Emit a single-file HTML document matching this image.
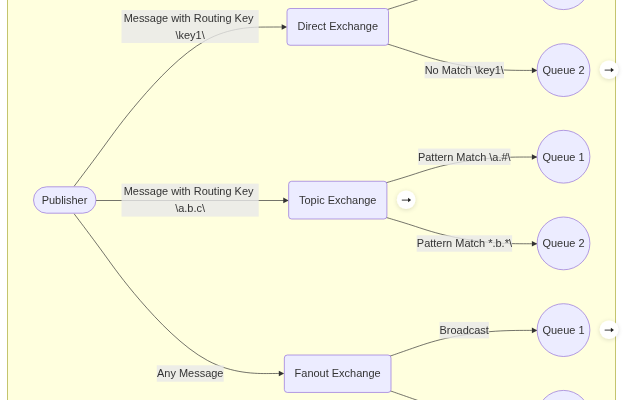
<!DOCTYPE html>
<html><head><meta charset="utf-8"><style>
html,body{margin:0;padding:0;background:#fff;width:624px;height:400px;overflow:hidden}
svg{display:block;will-change:transform}
text{font-family:"Liberation Sans",sans-serif;font-size:10.976px;fill:#333333}
</style></head><body>
<svg width="624" height="400" viewBox="0 0 624 400">
<defs>
<filter id="sh" x="-50%" y="-50%" width="200%" height="200%"><feGaussianBlur in="SourceAlpha" stdDeviation="2.4"/><feOffset dy="0.6"/><feComponentTransfer><feFuncA type="linear" slope="0.14"/></feComponentTransfer><feMerge><feMergeNode/><feMergeNode in="SourceGraphic"/></feMerge></filter>
</defs>

<rect x="7.5" y="-60" width="608" height="520" fill="#ffffde" stroke="#aaaa33" stroke-width="0.686"/>
<path d="M 74.10 186.30 L 79.00 179.83 C 83.89 173.35 93.68 160.41 103.36 147.14 C 113.04 133.87 122.61 120.28 139.75 100.25 C 156.90 80.23 181.61 53.76 205.59 40.48 C 229.57 27.20 252.81 27.10 265.59 27.05 C 278.37 27.00 280.68 27.00 281.84 27.00 L 283.00 27.00" fill="none" stroke="#333333" stroke-width="0.686"/>
<path d="M281.70 24.20 L287.10 27.00 L281.70 29.80 Z" fill="#333333"/>
<path d="M95.5 200.5 L284 200.5" fill="none" stroke="#333333" stroke-width="0.686"/>
<path d="M283.25 197.60 L288.65 200.40 L283.25 203.20 Z" fill="#333333"/>
<path d="M 74.10 213.75 L 79.15 220.45 C 84.20 227.15 94.31 240.54 104.01 253.90 C 113.71 267.26 123.00 280.57 140.29 300.58 C 157.57 320.58 182.84 347.28 207.62 360.54 C 232.41 373.80 256.70 373.62 268.77 373.54 C 280.83 373.45 280.67 373.45 280.58 373.45 L 280.50 373.45" fill="none" stroke="#333333" stroke-width="0.686"/>
<path d="M278.80 370.65 L284.20 373.45 L278.80 376.25 Z" fill="#333333"/>
<path d="M 387.09 9.61 L 391.07 8.36 C 395.05 7.10 403.02 4.60 412.20 1.54 C 421.39 -1.52 431.79 -5.14 445.11 -8.20 C 458.43 -11.27 474.67 -13.79 489.80 -15.05 C 504.94 -16.31 518.97 -16.31 526.70 -16.31 C 534.42 -16.31 535.84 -16.31 536.54 -16.31 L 537.25 -16.31" fill="none" stroke="#333333" stroke-width="0.686"/>
<path d="M531.85 -19.11 L537.25 -16.31 L531.85 -13.51 Z" fill="#333333"/>
<path d="M 387.09 43.89 L 391.07 45.14 C 395.05 46.40 403.02 48.90 412.20 51.96 C 421.39 55.02 431.79 58.64 445.11 61.80 C 458.43 64.97 474.67 67.69 489.80 69.05 C 504.94 70.41 518.97 70.41 526.70 70.41 C 534.42 70.41 535.84 70.41 536.54 70.41 L 537.25 70.41" fill="none" stroke="#333333" stroke-width="0.686"/>
<path d="M531.85 67.61 L537.25 70.41 L531.85 73.21 Z" fill="#333333"/>
<path d="M 385.49 182.96 L 389.74 181.71 C 393.99 180.45 402.48 177.95 411.94 174.89 C 421.39 171.83 431.79 168.21 445.11 165.15 C 458.43 162.08 474.67 159.56 489.80 158.30 C 504.94 157.04 518.97 157.04 526.70 157.04 C 534.42 157.04 535.84 157.04 536.54 157.04 L 537.25 157.04" fill="none" stroke="#333333" stroke-width="0.686"/>
<path d="M531.85 154.24 L537.25 157.04 L531.85 159.84 Z" fill="#333333"/>
<path d="M 385.49 217.24 L 389.74 218.49 C 393.99 219.75 402.48 222.25 411.94 225.31 C 421.39 228.37 431.79 231.99 445.11 235.15 C 458.43 238.32 474.67 241.04 489.80 242.40 C 504.94 243.76 518.97 243.76 526.70 243.76 C 534.42 243.76 535.84 243.76 536.54 243.76 L 537.25 243.76" fill="none" stroke="#333333" stroke-width="0.686"/>
<path d="M531.85 240.96 L537.25 243.76 L531.85 246.56 Z" fill="#333333"/>
<path d="M 389.59 356.31 L 393.15 355.06 C 396.72 353.80 403.85 351.30 412.62 348.24 C 421.39 345.18 431.79 341.56 445.11 338.50 C 458.43 335.43 474.67 332.91 489.80 331.65 C 504.94 330.39 518.97 330.39 526.70 330.39 C 534.42 330.39 535.84 330.39 536.54 330.39 L 537.25 330.39" fill="none" stroke="#333333" stroke-width="0.686"/>
<path d="M531.85 327.59 L537.25 330.39 L531.85 333.19 Z" fill="#333333"/>
<path d="M 389.59 390.59 L 393.15 391.84 C 396.72 393.10 403.85 395.60 412.62 398.66 C 421.39 401.72 431.79 405.34 445.11 408.50 C 458.43 411.67 474.67 414.39 489.80 415.75 C 504.94 417.11 518.97 417.11 526.70 417.11 C 534.42 417.11 535.84 417.11 536.54 417.11 L 537.25 417.11" fill="none" stroke="#333333" stroke-width="0.686"/>
<path d="M531.85 414.31 L537.25 417.11 L531.85 419.91 Z" fill="#333333"/>
<rect x="33.50" y="186.80" width="62.50" height="26.40" rx="13.20" ry="13.20" fill="#ECECFF" stroke="#9370DB" stroke-width="0.686"/>
<text x="64.50" y="203.80" text-anchor="middle">Publisher</text>
<rect x="287.00" y="8.50" width="101.50" height="36.75" rx="3" ry="3" fill="#ECECFF" stroke="#9370DB" stroke-width="0.686"/>
<text x="337.75" y="29.85" text-anchor="middle">Direct Exchange</text>
<rect x="288.65" y="181.25" width="98.25" height="37.75" rx="3" ry="3" fill="#ECECFF" stroke="#9370DB" stroke-width="0.686"/>
<text x="337.75" y="203.90" text-anchor="middle">Topic Exchange</text>
<rect x="284.35" y="355.00" width="106.65" height="37.45" rx="3" ry="3" fill="#ECECFF" stroke="#9370DB" stroke-width="0.686"/>
<text x="337.60" y="377.25" text-anchor="middle">Fanout Exchange</text>
<circle cx="563.50" cy="-16.80" r="26.40" fill="#ECECFF" stroke="#9370DB" stroke-width="0.686"/>
<text x="563.50" y="-13.00" text-anchor="middle">Queue 1</text>
<circle cx="563.50" cy="70.10" r="26.40" fill="#ECECFF" stroke="#9370DB" stroke-width="0.686"/>
<text x="563.50" y="73.90" text-anchor="middle">Queue 2</text>
<circle cx="563.50" cy="156.70" r="26.40" fill="#ECECFF" stroke="#9370DB" stroke-width="0.686"/>
<text x="563.50" y="160.50" text-anchor="middle">Queue 1</text>
<circle cx="563.50" cy="243.40" r="26.40" fill="#ECECFF" stroke="#9370DB" stroke-width="0.686"/>
<text x="563.50" y="247.20" text-anchor="middle">Queue 2</text>
<circle cx="563.50" cy="330.10" r="26.40" fill="#ECECFF" stroke="#9370DB" stroke-width="0.686"/>
<text x="563.50" y="333.90" text-anchor="middle">Queue 1</text>
<circle cx="563.50" cy="416.80" r="26.40" fill="#ECECFF" stroke="#9370DB" stroke-width="0.686"/>
<text x="563.50" y="420.60" text-anchor="middle">Queue 2</text>
<rect x="121.50" y="10.04" width="137.20" height="32.93" fill="rgba(232,232,232,0.8)"/>
<text x="188.58" y="22.07" text-anchor="middle">Message with Routing Key</text>
<text x="190.10" y="38.53" text-anchor="middle">\key1\</text>
<rect x="121.50" y="183.64" width="137.20" height="32.93" fill="rgba(232,232,232,0.8)"/>
<text x="188.58" y="195.27" text-anchor="middle">Message with Routing Key</text>
<text x="190.10" y="212.13" text-anchor="middle">\a.b.c\</text>
<rect x="156.80" y="365.27" width="66.90" height="16.46" fill="rgba(232,232,232,0.8)"/>
<text x="190.25" y="377.30" text-anchor="middle">Any Message</text>
<rect x="424.60" y="-25.03" width="79.40" height="16.46" fill="rgba(232,232,232,0.8)"/>
<text x="464.30" y="-13.00" text-anchor="middle">Match \key1\</text>
<rect x="424.60" y="61.87" width="79.40" height="16.46" fill="rgba(232,232,232,0.8)"/>
<text x="464.30" y="73.90" text-anchor="middle">No Match \key1\</text>
<rect x="418.20" y="148.52" width="92.20" height="16.46" fill="rgba(232,232,232,0.8)"/>
<text x="464.30" y="160.55" text-anchor="middle">Pattern Match \a.#\</text>
<rect x="416.70" y="235.27" width="95.40" height="16.46" fill="rgba(232,232,232,0.8)"/>
<text x="464.40" y="247.30" text-anchor="middle">Pattern Match *.b.*\</text>
<rect x="439.50" y="321.92" width="49.40" height="16.46" fill="rgba(232,232,232,0.8)"/>
<text x="464.20" y="333.95" text-anchor="middle">Broadcast</text>
<rect x="439.50" y="408.57" width="49.40" height="16.46" fill="rgba(232,232,232,0.8)"/>
<text x="464.20" y="420.60" text-anchor="middle">Broadcast</text>
<g filter="url(#sh)"><circle cx="406.15" cy="199.7" r="9.3" fill="#ffffff"/></g>
<path d="M401.80 200.10 L408.75 200.10" stroke="#444" stroke-width="1.05" fill="none"/>
<path d="M408.05 197.75 L411.10 200.10 L408.05 202.35 Z" fill="#222"/>
<g filter="url(#sh)"><circle cx="609" cy="69.7" r="9.3" fill="#ffffff"/></g>
<path d="M604.65 70.10 L611.60 70.10" stroke="#444" stroke-width="1.05" fill="none"/>
<path d="M610.90 67.75 L613.95 70.10 L610.90 72.35 Z" fill="#222"/>
<g filter="url(#sh)"><circle cx="609" cy="329.7" r="9.3" fill="#ffffff"/></g>
<path d="M604.65 330.10 L611.60 330.10" stroke="#444" stroke-width="1.05" fill="none"/>
<path d="M610.90 327.75 L613.95 330.10 L610.90 332.35 Z" fill="#222"/>
</svg></body></html>
